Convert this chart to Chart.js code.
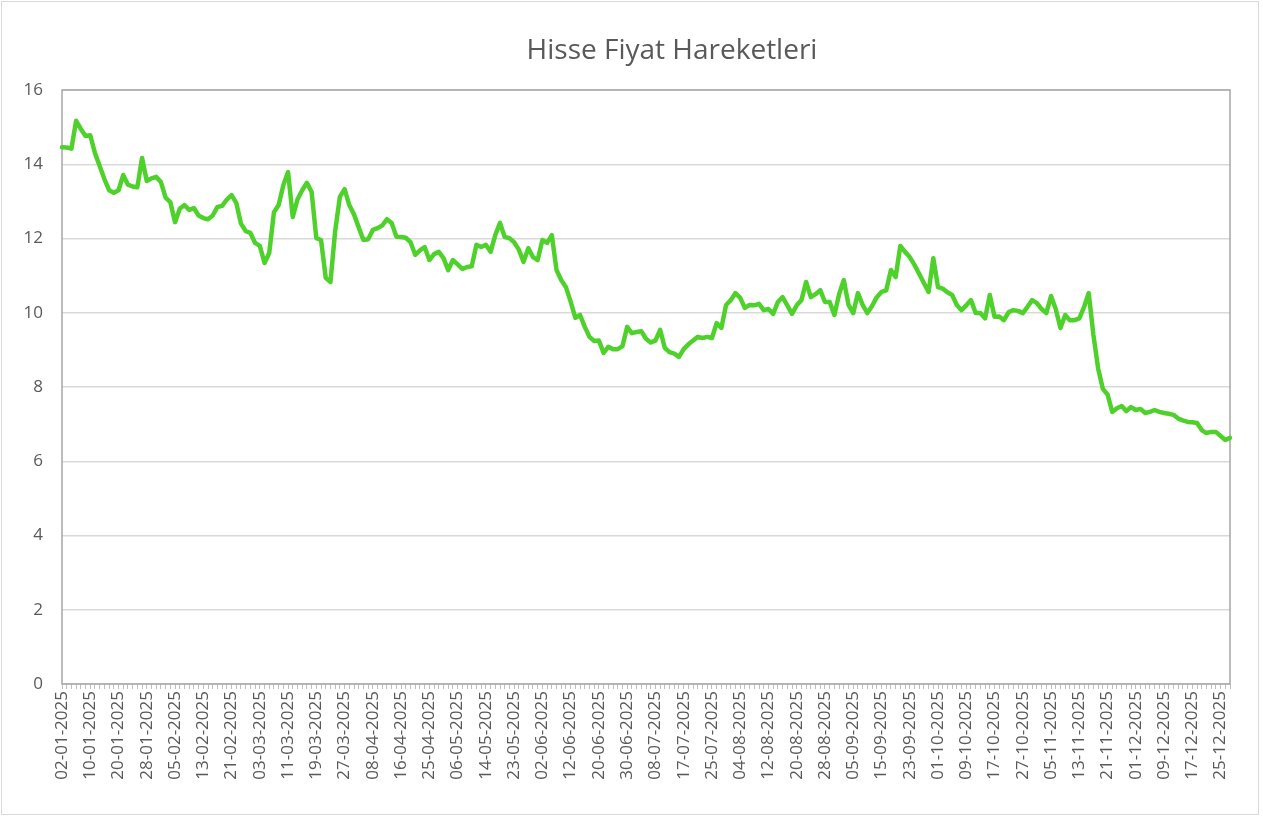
<!DOCTYPE html>
<html>
<head>
<meta charset="utf-8">
<title>Hisse Fiyat Hareketleri</title>
<script src="https://cdn.jsdelivr.net/npm/chart.js@4"></script>
<style>
    body { margin: 0; background: #ffffff; }
    canvas { display: block; }
</style>
</head>
<body>
<canvas id="priceChart" width="1263" height="819"></canvas>
<script>
const chartTitle = 'Hisse Fiyat Hareketleri';

// one tick label every 6 trading days
const tickLabels = [
    '02-01-2025', '10-01-2025', '20-01-2025', '28-01-2025', '05-02-2025', '13-02-2025',
    '21-02-2025', '03-03-2025', '11-03-2025', '19-03-2025', '27-03-2025', '08-04-2025',
    '16-04-2025', '25-04-2025', '06-05-2025', '14-05-2025', '23-05-2025', '02-06-2025',
    '12-06-2025', '20-06-2025', '30-06-2025', '08-07-2025', '17-07-2025', '25-07-2025',
    '04-08-2025', '12-08-2025', '20-08-2025', '28-08-2025', '05-09-2025', '15-09-2025',
    '23-09-2025', '01-10-2025', '09-10-2025', '17-10-2025', '27-10-2025', '05-11-2025',
    '13-11-2025', '21-11-2025', '01-12-2025', '09-12-2025', '17-12-2025', '25-12-2025'
];
const labelEvery = 6;

// daily closing prices
const prices = [
    14.46, 14.45, 14.42, 15.17, 14.95, 14.76, 14.78, 14.30, 13.95, 13.60,
    13.30, 13.23, 13.30, 13.71, 13.45, 13.40, 13.38, 14.17, 13.55, 13.62,
    13.66, 13.52, 13.10, 12.98, 12.44, 12.80, 12.90, 12.77, 12.82, 12.62,
    12.55, 12.52, 12.62, 12.85, 12.88, 13.05, 13.17, 12.96, 12.40, 12.20,
    12.15, 11.88, 11.80, 11.34, 11.61, 12.71, 12.90, 13.44, 13.79, 12.58,
    13.05, 13.30, 13.50, 13.25, 12.01, 11.96, 10.94, 10.83, 12.20, 13.12,
    13.33, 12.90, 12.65, 12.30, 11.96, 11.98, 12.23, 12.28, 12.35, 12.52,
    12.42, 12.05, 12.04, 12.02, 11.90, 11.56, 11.68, 11.77, 11.42, 11.58,
    11.64, 11.47, 11.15, 11.42, 11.30, 11.18, 11.23, 11.25, 11.83, 11.77,
    11.83, 11.64, 12.09, 12.42, 12.04, 12.01, 11.90, 11.70, 11.37, 11.74,
    11.50, 11.42, 11.96, 11.88, 12.09, 11.15, 10.88, 10.69, 10.30, 9.86,
    9.94, 9.62, 9.35, 9.24, 9.25, 8.92, 9.08, 9.02, 9.02, 9.10,
    9.62, 9.45, 9.48, 9.50, 9.30, 9.20, 9.25, 9.54, 9.05, 8.94,
    8.90, 8.81, 9.02, 9.15, 9.25, 9.35, 9.32, 9.35, 9.32, 9.72,
    9.59, 10.21, 10.34, 10.53, 10.40, 10.13, 10.21, 10.20, 10.24, 10.07,
    10.10, 9.97, 10.29, 10.42, 10.20, 9.97, 10.20, 10.34, 10.83, 10.42,
    10.50, 10.61, 10.29, 10.29, 9.94, 10.50, 10.88, 10.21, 9.99, 10.53,
    10.21, 9.99, 10.18, 10.42, 10.56, 10.60, 11.15, 10.96, 11.80, 11.64,
    11.50, 11.29, 11.05, 10.80, 10.56, 11.47, 10.69, 10.65, 10.55, 10.48,
    10.21, 10.07, 10.20, 10.34, 9.99, 9.99, 9.85, 10.48, 9.89, 9.90,
    9.80, 10.02, 10.07, 10.05, 9.99, 10.16, 10.34, 10.26, 10.10, 9.99,
    10.45, 10.10, 9.59, 9.94, 9.80, 9.80, 9.85, 10.15, 10.53, 9.40,
    8.50, 7.95, 7.80, 7.33, 7.43, 7.49, 7.35, 7.46, 7.38, 7.41,
    7.30, 7.33, 7.38, 7.33, 7.30, 7.28, 7.25, 7.15, 7.10, 7.06,
    7.05, 7.03, 6.84, 6.76, 6.79, 6.79, 6.68, 6.57, 6.63
];

const yMin = 0;
const yMax = 16;
const yStep = 2;

const categories = prices.map((p, i) => i % labelEvery === 0 ? tickLabels[i / labelEvery] : '');

const textColor = '#595959';
const fontFamily = "'Open Sans', 'Noto Sans', sans-serif";

// frame round the chart, border round the plot area, and the title
const framePlugin = {
    id: 'frame',
    beforeDatasetsDraw(chart) {
        const { ctx, chartArea } = chart;
        ctx.save();
        ctx.strokeStyle = '#a6a6a6';
        ctx.lineWidth = 1.5;
        ctx.strokeRect(chartArea.left, chartArea.top, chartArea.right - chartArea.left, chartArea.bottom - chartArea.top);
        ctx.restore();
    },
    afterDraw(chart) {
        const ctx = chart.ctx;
        ctx.save();
        ctx.strokeStyle = '#d9d9d9';
        ctx.lineWidth = 1;
        ctx.strokeRect(1.5, 1.5, 1257, 813);
        ctx.fillStyle = textColor;
        ctx.font = `28px ${fontFamily}`;
        ctx.textAlign = 'center';
        ctx.textBaseline = 'middle';
        ctx.fillText(chartTitle, 672, 51);
        ctx.restore();
    }
};

const ctx = document.getElementById('priceChart').getContext('2d');

const priceChart = new Chart(ctx, {
    type: 'line',
    data: {
        labels: categories,
        datasets: [{
            label: chartTitle,
            data: prices,
            borderColor: '#4fd12b',
            borderWidth: 4.5,
            pointRadius: 0,
            tension: 0,
            borderJoinStyle: 'round',
            borderCapStyle: 'round'
        }]
    },
    options: {
        responsive: false,
        animation: false,
        layout: {
            padding: { top: 90, right: 33, bottom: 0, left: 0 }
        },
        plugins: {
            legend: { display: false },
            title: { display: false },
            tooltip: { enabled: false }
        },
        scales: {
            x: {
                offset: false,
                afterFit: function(scale) { scale.height = 135; },
                grid: {
                    drawOnChartArea: false,
                    drawTicks: true,
                    tickLength: 5,
                    color: '#bfbfbf'
                },
                border: { display: false },
                ticks: {
                    autoSkip: false,
                    minRotation: 90,
                    maxRotation: 90,
                    padding: 2,
                    color: textColor,
                    font: { family: fontFamily, size: 17 },
                    callback: function(value, index) {
                        return index % labelEvery === 0 ? this.getLabelForValue(value) : '';
                    }
                }
            },
            y: {
                min: yMin,
                max: yMax,
                afterFit: function(scale) { scale.width = 62; },
                grid: {
                    color: '#d9d9d9',
                    lineWidth: 1.5,
                    drawTicks: false
                },
                border: { display: false },
                ticks: {
                    stepSize: yStep,
                    padding: 19,
                    color: textColor,
                    font: { family: fontFamily, size: 17 }
                }
            }
        }
    },
    plugins: [framePlugin]
});
</script>
</body>
</html>
